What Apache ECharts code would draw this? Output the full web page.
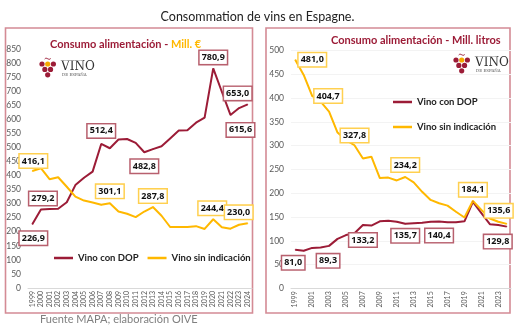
<!DOCTYPE html>
<html><head><meta charset="utf-8">
<script src="https://cdn.jsdelivr.net/npm/echarts@6/dist/echarts.min.js"></script>
<style>html,body{margin:0;padding:0;background:#fff}#c{width:515px;height:328px}</style>
</head><body><div id="c"></div>
<script>
// ---- data ----
const years = ['1999','2000','2001','2002','2003','2004','2005','2006','2007','2008','2009','2010','2011','2012','2013','2014','2015','2016','2017','2018','2019','2020','2021','2022','2023','2024'];
// Consumo alimentación - Mill. €
const valueDOP = [226.9, 279.2, 281, 282, 305, 366, 392, 414, 512.4, 497, 528, 530, 516, 482.8, 494, 504, 532, 560, 561, 588, 606, 780.9, 698, 615.6, 640, 653.0];
const valueSin = [416.1, 426, 387, 394, 360, 325, 311, 304, 296, 301.1, 272, 264, 252, 272, 287.8, 257, 217, 217, 217, 220, 210, 244.4, 216, 211, 225, 230.0];
// Consumo alimentación - Mill. litros
const volumeDOP = [81.0, 79, 85, 86, 89.3, 104, 112, 116, 133.2, 132, 141, 142, 140, 135.7, 137, 138, 140, 140.4, 139, 139, 141, 182, 158, 135, 133, 129.8];
const volumeSin = [481.0, 449, 404.7, 393, 372, 327.8, 312, 301, 273, 277, 232, 233, 227, 234.2, 223, 203, 186, 179, 174, 161, 149, 184.1, 165, 147, 140, 135.6];
const seriesNames = ['Vino con DOP', 'Vino sin indicación'];

// ---- label placement (style only: index -> offset of label centre) ----
const labelOffsets = {
  valueDOP: {0:[1,14], 1:[2,-11], 8:[0,-13], 13:[0,14], 21:[0,-11], 23:[10,15], 25:[-10,-11]},
  valueSin: {0:[1,-10], 9:[0,-12], 14:[0,-11], 21:[-1,-11], 25:[-9,-11]},
  volumeDOP: {0:[-2,13], 4:[-1,15], 8:[0,15], 13:[0,12], 17:[0,14], 25:[-9,15]},
  volumeSin: {0:[17,0], 2:[16,0], 5:[17,3], 13:[0,-12], 21:[0,-11], 25:[-8,-13]}
};

const RED = '#9c1c37', GOLD = '#ffb800';
const RED_BOX = '#b8606e', GOLD_BOX = '#ffd050';
const FONT = 'Lato';

function fmt(v){ return v.toFixed(1).replace('.', ','); }
function buildData(arr, offs, boxColor){
  return arr.map((v,i)=>{
    const o = offs[i];
    if(!o) return v;
    return {value:v, label:{show:true, position:'inside', offset:o, formatter:()=>fmt(v),
      backgroundColor:'#fff', borderColor:boxColor, borderWidth:1.5, padding:[2,2,1,2],
      fontFamily:'Open Sans', fontSize:9, fontWeight:'bold', color:'#111', lineHeight:10}};
  });
}
function lineSeries(name, arr, offs, color, box, idx){
  return {type:'line', name, xAxisIndex:idx, yAxisIndex:idx, data:buildData(arr, offs, box),
    symbol:'circle', symbolSize:1, itemStyle:{color}, lineStyle:{color, width:2},
    label:{show:false}, emphasis:{disabled:true}};
}

const axisLabelX = {rotate:90, fontSize:7, color:'#595959', margin:3, fontFamily:FONT};
const axisLabelY = {fontSize:8.5, color:'#595959', margin:7, fontFamily:FONT};

function logo(x, y){
  const r = 2.6, dx = 5.7, dy = 5.4;
  const pts = [[0,0,RED],[1,0,'#f5a800'],[2,0,RED],[0.5,1,RED],[1.5,1,RED],[1,2,RED]];
  const children = pts.map(p=>({type:'circle', shape:{cx:x+p[0]*dx, cy:y+7+p[1]*dy, r}, style:{fill:p[2]}}));
  children.push({type:'bezierCurve', shape:{x1:x+dx-3, y1:y+2, x2:x+dx+3, y2:y+1.5, cpx1:x+dx-1, cpy1:y-0.5, cpx2:x+dx+1, cpy2:y+4}, style:{stroke:RED, lineWidth:1, fill:null}});
  children.push({type:'text', style:{text:'VINO', x:x+19, y:y+10, font:'12px "DejaVu Serif"', fill:'#333', verticalAlign:'middle'}});
  children.push({type:'rect', shape:{x:x+19, y:y+3, width:22, height:0.8}, style:{fill:'#bbb'}});
  children.push({type:'text', style:{text:'DE ESPAÑA', x:x+20, y:y+17.5, font:'4px "DejaVu Serif"', fill:'#555', verticalAlign:'middle'}});
  return {type:'group', children};
}

const chart = echarts.init(document.getElementById('c'), null, {renderer:'canvas'});
chart.setOption({
  animation:false,
  backgroundColor:'#fff',
  title:[
    {text:'Consommation de vins en Espagne.', left:'center', top:5, textStyle:{fontFamily:FONT, fontSize:12.5, fontWeight:'normal', color:'#222'}},
    {text:'{a|Consumo alimentación - }{b|Mill. €}', left:45, top:34, textStyle:{rich:{
      a:{fontFamily:FONT, fontSize:11, fontWeight:'bold', color:RED},
      b:{fontFamily:FONT, fontSize:11, fontWeight:'bold', color:GOLD}}}},
    {text:'Consumo alimentación - Mill. litros', left:326, top:30, textStyle:{fontFamily:FONT, fontSize:11, fontWeight:'bold', color:RED}}
  ],
  legend:[
    {data:seriesNames.map(n=>({name:n, icon:'rect'})), left:49, top:248, itemWidth:19, itemHeight:2.5, itemGap:9,
      textStyle:{fontFamily:FONT, fontSize:9.5, fontWeight:'bold', color:'#222'}},
    {data:seriesNames.map(n=>({name:n, icon:'rect'})), orient:'vertical', left:388, top:91, itemWidth:19, itemHeight:2.5, itemGap:13,
      textStyle:{fontFamily:FONT, fontSize:9.5, fontWeight:'bold', color:'#222', lineHeight:12}}
  ],
  grid:[
    {left:28, top:49, width:224, height:239},
    {left:291, top:50.7, width:220, height:237.6}
  ],
  xAxis:[
    {type:'category', gridIndex:0, data:years, axisTick:{show:false}, axisLine:{lineStyle:{color:'#d9d9d9'}}, axisLabel:{...axisLabelX, interval:0}},
    {type:'category', gridIndex:1, data:years, axisTick:{show:false}, axisLine:{lineStyle:{color:'#d9d9d9'}}, axisLabel:{...axisLabelX, interval:1}}
  ],
  yAxis:[
    {type:'value', gridIndex:0, min:0, max:850, interval:50, axisLine:{show:false}, axisTick:{show:false}, splitLine:{show:false}, axisLabel:axisLabelY},
    {type:'value', gridIndex:1, min:0, max:500, interval:50, axisLine:{show:false}, axisTick:{show:false}, splitLine:{show:true, lineStyle:{color:'#f3f3f3'}}, axisLabel:axisLabelY}
  ],
  series:[
    lineSeries(seriesNames[0], valueDOP, labelOffsets.valueDOP, RED, RED_BOX, 0),
    lineSeries(seriesNames[1], valueSin, labelOffsets.valueSin, GOLD, GOLD_BOX, 0),
    lineSeries(seriesNames[0], volumeDOP, labelOffsets.volumeDOP, RED, RED_BOX, 1),
    lineSeries(seriesNames[1], volumeSin, labelOffsets.volumeSin, GOLD, GOLD_BOX, 1)
  ],
  graphic:[
    {type:'rect', shape:{x:5.5, y:28, width:247, height:285}, style:{fill:null, stroke:'#d48b95', lineWidth:1.6}, z:-1},
    {type:'rect', shape:{x:266, y:28, width:244, height:285}, style:{fill:null, stroke:'#d48b95', lineWidth:1.6}, z:-1},
    logo(42, 57),
    logo(456, 53),
    {type:'text', style:{text:'Fuente MAPA; elaboración OIVE', x:40, y:319, font:'11px Lato', fill:'#808080', verticalAlign:'middle'}}
  ]
});
</script></body></html>
